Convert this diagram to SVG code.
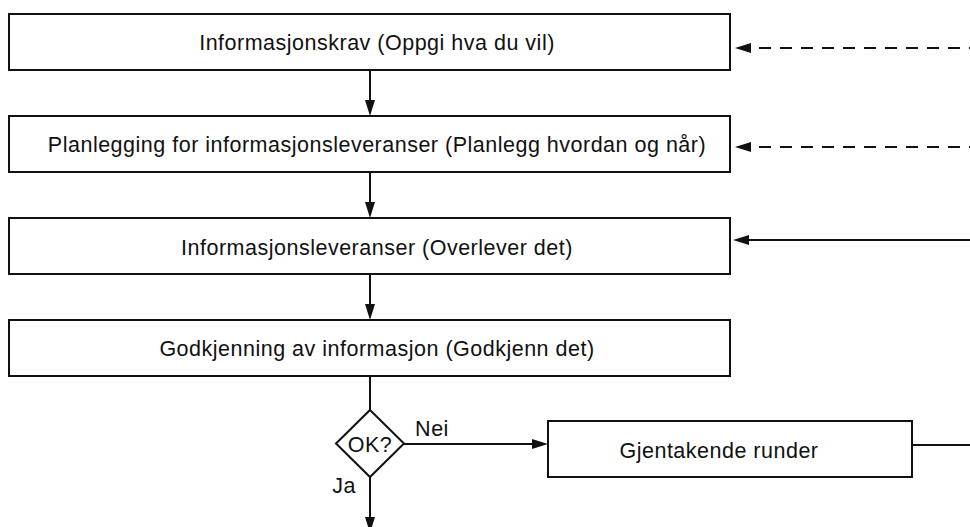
<svg xmlns="http://www.w3.org/2000/svg" width="970" height="527" viewBox="0 0 970 527">
<style>
.box{fill:#fff;stroke:#111;stroke-width:2}
.lbl{font-family:"Liberation Sans",Arial,sans-serif;font-size:21.5px;letter-spacing:0.5px;fill:#111;text-anchor:middle}
.edge{fill:none;stroke:#111;stroke-width:2}
.dash{stroke-dasharray:12 9;stroke-dashoffset:11}
</style>
<defs>
<marker id="arr" markerUnits="userSpaceOnUse" markerWidth="20" markerHeight="14" refX="0" refY="0" orient="auto" overflow="visible">
<path d="M0,-5 L16,0 L0,5 Z" fill="#111"/>
</marker>
</defs>
<rect width="970" height="527" fill="#fff"/>
<g id="connectors">
<path class="edge" d="M370,70 V100" marker-end="url(#arr)"/>
<path class="edge" d="M370,171 V202" marker-end="url(#arr)"/>
<path class="edge" d="M370,274 V304" marker-end="url(#arr)"/>
<path class="edge" d="M370,376 V410"/>
<path class="edge" d="M404,444 H532" marker-end="url(#arr)"/>
<path class="edge" d="M370,477 V517" marker-end="url(#arr)"/>
<path class="edge" d="M912,445 H970"/>
<path class="edge dash" d="M970,48 H751" marker-end="url(#arr)"/>
<path class="edge dash" d="M970,147 H751" marker-end="url(#arr)"/>
<path class="edge" d="M970,240 H749" marker-end="url(#arr)"/>
<text class="lbl" x="432" y="436">Nei</text>
<text class="lbl" x="344" y="493">Ja</text>
</g>
<g id="n1"><rect class="box" x="9" y="14" width="721" height="56"/><text class="lbl" x="377" y="50">Informasjonskrav (Oppgi hva du vil)</text></g>
<g id="n2"><rect class="box" x="9" y="116" width="721" height="56"/><text class="lbl" x="377" y="152">Planlegging for informasjonsleveranser (Planlegg hvordan og når)</text></g>
<g id="n3"><rect class="box" x="9" y="218" width="721" height="56"/><text class="lbl" x="377" y="254.5">Informasjonsleveranser (Overlever det)</text></g>
<g id="n4"><rect class="box" x="9" y="320" width="721" height="56"/><text class="lbl" x="377" y="356">Godkjenning av informasjon (Godkjenn det)</text></g>
<g id="decision"><path class="box" d="M370,410 L404,443.5 L370,477 L336,443.5 Z"/><text class="lbl" x="370" y="452">OK?</text></g>
<g id="n5"><rect class="box" x="548" y="421" width="364" height="56"/><text class="lbl" x="719" y="458">Gjentakende runder</text></g>
</svg>
